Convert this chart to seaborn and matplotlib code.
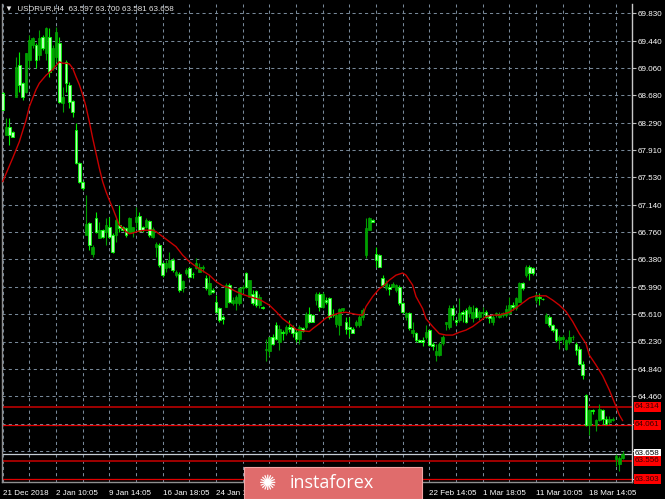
import numpy as np
import pandas as pd
import matplotlib
matplotlib.use("Agg")
import matplotlib.pyplot as plt
import matplotlib.transforms as mtransforms
from matplotlib.patches import Rectangle
import seaborn as sns

# USDRUR H4 candles (one value per bar)
opens = [
    68.71, 68.12, 68.23, 68.17, 68.66, 69.11, 68.85, 68.73, 69.18, 69.39,
    69.39, 69.25, 69.50, 69.27, 69.50, 69.06, 69.22, 69.41, 68.57, 69.15,
    68.83, 68.60, 68.19, 67.73, 67.47, 66.72, 66.89, 66.46, 66.96, 66.68,
    66.79, 66.77, 66.84, 66.72, 66.72, 66.86, 66.84, 66.82, 66.77, 66.76,
    66.91, 66.99, 66.83, 66.84, 66.92, 66.70, 66.56, 66.58, 66.33, 66.26,
    66.28, 66.37, 66.16, 66.17, 65.98, 66.19, 66.26, 66.18, 66.26, 66.21,
    66.26, 66.12, 65.90, 65.95, 65.79, 65.70, 65.57, 65.72, 66.02, 65.77,
    65.77, 65.77, 65.98, 66.19, 65.86, 65.89, 65.94, 65.74, 65.72, 65.11,
    65.09, 65.30, 65.46, 65.23, 65.37, 65.35, 65.44, 65.44, 65.37, 65.27,
    65.42, 65.44, 65.62, 65.60, 65.81, 65.90, 65.72, 65.81, 65.84, 65.62,
    65.47, 65.46, 65.67, 65.51, 65.44, 65.41, 65.46, 65.46, 65.58, 66.44,
    66.79, 66.93, 66.45, 66.44, 66.12, 65.98, 65.99, 66.00, 65.95, 66.00,
    65.77, 65.58, 65.63, 65.35, 65.35, 65.25, 65.25, 65.30, 65.39, 65.19,
    65.04, 65.04, 65.21, 65.48, 65.44, 65.70, 65.53, 65.53, 65.65, 65.67,
    65.63, 65.56, 65.70, 65.58, 65.63, 65.65, 65.60, 65.51, 65.60, 65.58,
    65.60, 65.60, 65.63, 65.74, 65.70, 65.79, 66.05, 66.16, 66.28, 66.26,
    65.81, 65.86, 65.83, 65.49, 65.58, 65.46, 65.41, 65.25, 65.27, 65.13,
    65.23, 65.29, 65.20, 65.13, 64.92, 64.48, 64.06, 64.27, 64.06, 64.13,
    64.27, 64.15, 64.10, 64.13, 63.58, 63.52, 63.597,
]
highs = [
    68.72, 68.36, 68.36, 68.18, 69.22, 69.29, 68.87, 69.27, 69.53, 69.50,
    69.41, 69.60, 69.53, 69.64, 69.62, 69.39, 69.64, 69.50, 68.80, 69.18,
    68.87, 68.62, 68.29, 67.75, 67.48, 67.28, 66.91, 66.58, 67.05, 66.91,
    66.80, 66.96, 66.98, 66.75, 66.96, 67.14, 66.85, 66.84, 66.97, 66.84,
    67.11, 67.05, 66.85, 66.96, 66.93, 66.84, 66.63, 66.61, 66.35, 66.37,
    66.49, 66.40, 66.23, 66.21, 66.09, 66.26, 66.28, 66.21, 66.40, 66.33,
    66.30, 66.16, 66.16, 65.98, 65.88, 65.72, 65.60, 66.05, 66.05, 65.86,
    65.88, 66.00, 66.02, 66.21, 66.09, 65.95, 65.95, 65.90, 65.73, 65.27,
    65.30, 65.34, 65.51, 65.46, 65.39, 65.46, 65.53, 65.46, 65.39, 65.46,
    65.44, 65.65, 65.72, 65.61, 65.93, 65.92, 65.92, 65.86, 65.86, 65.69,
    65.62, 65.70, 65.70, 65.58, 65.58, 65.44, 65.53, 65.60, 65.70, 66.96,
    66.97, 66.94, 66.56, 66.45, 66.16, 66.09, 66.03, 66.06, 66.03, 66.02,
    65.78, 65.65, 65.64, 65.51, 65.37, 65.27, 65.30, 65.46, 65.40, 65.23,
    65.20, 65.22, 65.32, 65.51, 65.74, 65.74, 65.55, 65.84, 65.67, 65.70,
    65.74, 65.74, 65.72, 65.67, 65.72, 65.67, 65.60, 65.60, 65.65, 65.65,
    65.65, 65.74, 65.86, 65.79, 65.86, 66.07, 66.07, 66.30, 66.30, 66.28,
    65.91, 65.91, 65.84, 65.63, 65.60, 65.48, 65.42, 65.32, 65.32, 65.27,
    65.39, 65.32, 65.23, 65.16, 64.95, 64.50, 64.29, 64.29, 64.15, 64.36,
    64.29, 64.18, 64.18, 64.17, 63.66, 63.62, 63.700,
]
lows = [
    68.47, 68.12, 67.98, 68.09, 68.65, 68.73, 68.62, 68.71, 69.06, 69.34,
    69.06, 69.18, 69.32, 69.18, 68.94, 69.04, 69.15, 68.57, 68.45, 68.73,
    68.50, 68.38, 67.72, 67.45, 67.36, 66.72, 66.51, 66.42, 66.75, 66.68,
    66.68, 66.58, 66.68, 66.47, 66.63, 66.77, 66.78, 66.70, 66.75, 66.70,
    66.82, 66.77, 66.77, 66.82, 66.70, 66.68, 66.42, 66.28, 66.14, 66.21,
    66.26, 66.21, 66.14, 65.93, 65.93, 66.16, 66.12, 66.12, 66.25, 66.21,
    66.21, 65.95, 65.88, 65.91, 65.63, 65.51, 65.48, 65.72, 65.77, 65.74,
    65.67, 65.74, 65.91, 65.98, 65.86, 65.74, 65.72, 65.70, 65.69, 64.95,
    65.02, 65.18, 65.25, 65.11, 65.25, 65.32, 65.37, 65.30, 65.23, 65.20,
    65.36, 65.41, 65.49, 65.50, 65.74, 65.66, 65.70, 65.76, 65.55, 65.58,
    65.44, 65.32, 65.65, 65.34, 65.30, 65.35, 65.44, 65.44, 65.53, 66.40,
    66.79, 66.90, 66.28, 66.27, 66.00, 65.95, 65.88, 65.99, 65.93, 65.74,
    65.63, 65.53, 65.39, 65.30, 65.23, 65.22, 65.16, 65.27, 65.16, 65.11,
    64.95, 65.02, 65.18, 65.39, 65.41, 65.53, 65.46, 65.51, 65.51, 65.49,
    65.58, 65.51, 65.56, 65.53, 65.56, 65.56, 65.49, 65.46, 65.58, 65.56,
    65.58, 65.58, 65.60, 65.67, 65.67, 65.79, 65.95, 66.14, 66.09, 66.16,
    65.77, 65.74, 65.81, 65.49, 65.44, 65.37, 65.23, 65.13, 65.20, 65.11,
    65.20, 65.25, 65.04, 64.90, 64.71, 64.04, 63.92, 64.22, 63.97, 64.11,
    64.08, 64.06, 64.08, 64.11, 63.49, 63.42, 63.581,
]
closes = [
    68.48, 68.24, 68.12, 68.10, 69.08, 68.83, 68.66, 69.27, 69.46, 69.48,
    69.18, 69.48, 69.34, 69.62, 69.01, 69.34, 69.57, 68.59, 68.66, 68.85,
    68.59, 68.45, 67.73, 67.47, 67.38, 66.87, 66.58, 66.56, 66.77, 66.79,
    66.70, 66.86, 66.70, 66.49, 66.93, 66.82, 66.79, 66.72, 66.96, 66.83,
    66.98, 66.78, 66.79, 66.93, 66.72, 66.80, 66.59, 66.30, 66.16, 66.33,
    66.37, 66.23, 66.20, 65.95, 66.08, 66.23, 66.14, 66.17, 66.33, 66.28,
    66.28, 65.98, 66.05, 65.93, 65.65, 65.53, 65.55, 66.02, 65.79, 65.81,
    65.86, 65.98, 66.00, 66.00, 66.09, 65.77, 65.74, 65.86, 65.70, 65.13,
    65.30, 65.20, 65.27, 65.41, 65.35, 65.44, 65.41, 65.35, 65.27, 65.44,
    65.38, 65.62, 65.51, 65.51, 65.90, 65.72, 65.90, 65.79, 65.58, 65.60,
    65.60, 65.69, 65.70, 65.41, 65.41, 65.35, 65.51, 65.58, 65.67, 66.82,
    66.96, 66.91, 66.37, 66.28, 66.02, 66.05, 65.97, 66.04, 66.02, 65.77,
    65.65, 65.63, 65.42, 65.39, 65.25, 65.23, 65.23, 65.37, 65.18, 65.17,
    65.09, 65.20, 65.30, 65.50, 65.70, 65.60, 65.51, 65.63, 65.62, 65.51,
    65.72, 65.65, 65.58, 65.65, 65.65, 65.58, 65.56, 65.58, 65.63, 65.60,
    65.63, 65.69, 65.74, 65.72, 65.84, 66.05, 65.98, 66.28, 66.19, 66.19,
    65.88, 65.84, 65.82, 65.60, 65.46, 65.39, 65.25, 65.30, 65.30, 65.25,
    65.30, 65.30, 65.11, 64.92, 64.76, 64.06, 64.27, 64.25, 64.13, 64.29,
    64.15, 64.08, 64.15, 64.15, 63.62, 63.60, 63.658,
]

# moving average line (bar index, value)
ma_bars = [0, 3, 5, 7, 8, 10, 11, 13, 15, 17, 18, 19, 20, 21, 22, 23, 24, 25,
           26, 27, 28, 29, 30, 31, 32, 33, 34, 35, 36, 37, 38, 39, 41, 43, 45,
           46, 48, 50, 52, 54, 56, 58, 60, 62, 64, 66, 68, 70, 72, 74, 77, 80,
           82, 84, 86, 88, 90, 92, 93, 95, 97, 99, 101, 103, 106, 108, 109,
           111, 113, 114, 116, 118, 120, 121, 123, 124, 126, 127, 129, 131,
           133, 135, 137, 139, 141, 143, 145, 147, 149, 152, 154, 156, 158,
           160, 161, 163, 165, 167, 169, 171, 173, 175, 176, 178, 180, 182,
           184, 185, 186]
ma_vals = [67.47, 67.80, 68.03, 68.33, 68.52, 68.76, 68.85, 68.96, 69.04, 69.15,
           69.13, 69.13, 69.12, 69.06, 68.94, 68.83, 68.69, 68.52, 68.31, 68.08,
           67.87, 67.66, 67.47, 67.33, 67.21, 67.10, 66.98, 66.86, 66.82, 66.77,
           66.74, 66.75, 66.78, 66.79, 66.79, 66.77, 66.70, 66.63, 66.56, 66.44,
           66.35, 66.28, 66.22, 66.16, 66.07, 66.01, 65.98, 65.93, 65.89, 65.86,
           65.82, 65.74, 65.65, 65.55, 65.48, 65.40, 65.38, 65.37, 65.41, 65.48,
           65.56, 65.60, 65.63, 65.64, 65.61, 65.60, 65.72, 65.86, 65.97, 66.00,
           66.09, 66.16, 66.19, 66.16, 66.02, 65.86, 65.69, 65.55, 65.44, 65.34,
           65.32, 65.32, 65.36, 65.39, 65.44, 65.51, 65.58, 65.60, 65.60, 65.64,
           65.70, 65.77, 65.84, 65.87, 65.87, 65.87, 65.81, 65.74, 65.65, 65.51,
           65.34, 65.20, 65.04, 64.90, 64.75, 64.55, 64.32, 64.20, 64.12]

price_levels = [69.830, 69.440, 69.060, 68.680, 68.290, 67.910, 67.530, 67.140,
                66.760, 66.380, 65.990, 65.610, 65.230, 64.840, 64.460,
                64.075, 63.690, 63.306]
# labels under the watermark badge are not visible in the screenshot
date_bars = [0, 16, 32, 48, 64, 80, 96, 112, 128, 144, 160, 176]
date_labels = ["21 Dec 2018", "2 Jan 10:05", "9 Jan 14:05", "16 Jan 18:05",
               "24 Jan 10:05", "", "", "",
               "22 Feb 14:05", "1 Mar 18:05", "11 Mar 10:05", "18 Mar 14:05"]

# horizontal levels: (price, line colour, line width, label bg, label fg)
levels = [
    (64.314, "#a00000", 1.4, "#ff0000", "#3a0000"),
    (64.061, "#e00000", 0.9, "#ff0000", "#3a0000"),
    (63.658, "#c4ccd4", 0.9, "#ffffff", "#000000"),
    (63.556, "#a00000", 1.4, "#ff0000", "#3a0000"),
    (63.303, "#e00000", 0.9, "#ff0000", "#3a0000"),
]

sns.set_theme(style="dark")
plt.rcParams["font.family"] = ["Liberation Sans", "DejaVu Sans"]

df = pd.DataFrame({"open": opens, "high": highs, "low": lows, "close": closes})
df["bar"] = np.arange(len(df))
df["bull"] = df["close"] >= df["open"]
up = df[df["bull"]]
dn = df[~df["bull"]]

fig = plt.figure(figsize=(6.65, 4.99), dpi=100, facecolor="black")
ax = fig.add_axes([2 / 665, 17 / 499, 630 / 665, 478 / 499])
ax.set_facecolor("black")

# candles
ax.vlines(up["bar"], up["low"], up["high"], color="#00a000", lw=0.8, zorder=3)
ax.bar(up["bar"], up["close"] - up["open"], bottom=up["open"], width=0.75,
       color="#00a000", edgecolor="#00a800", lw=0.5, zorder=4)
ax.vlines(dn["bar"], dn["low"], dn["high"], color="#00ee00", lw=0.8, zorder=3)
ax.bar(dn["bar"], dn["close"] - dn["open"], bottom=dn["open"], width=0.75,
       color="#b8ffb8", edgecolor="#00ff00", lw=0.6, zorder=4)

sns.lineplot(x=ma_bars, y=ma_vals, ax=ax, color="#c80000", lw=1.0, zorder=5)

trans = mtransforms.blended_transform_factory(ax.transAxes, ax.transData)
for price, lc, lw, bg, fg in levels:
    ax.axhline(price, color=lc, lw=lw, zorder=2)
    ax.text(1 + 3 / 630, price, f"{price:.3f}", transform=trans, ha="left",
            va="center", fontsize=5.8, color=fg, zorder=10,
            bbox=dict(boxstyle="square,pad=0.18", fc=bg, ec="none"))

ax.set_xlim(-0.2, 188.8)
ax.set_ylim(63.261, 69.960)

ax.set_yticks(price_levels)
ax.set_yticklabels([f"{p:.3f}" if p > 64.4 else "" for p in price_levels])
ax.yaxis.tick_right()
ax.tick_params(axis="y", length=3, width=0.8, color="#c0c0c0",
               labelcolor="white", labelsize=5.8, pad=1)

ax.set_xticks(date_bars)
ax.set_xticklabels(date_labels, ha="left")
ax.set_xticks(np.arange(8, 189, 16), minor=True)
ax.tick_params(axis="x", which="major", length=4, width=0.8, color="#a0a0a0",
               labelcolor="white", labelsize=5.8, pad=1.5)
ax.tick_params(axis="x", which="minor", length=0)

ax.set_axisbelow(True)
ax.grid(True, which="both", color="#778899", lw=0.75, linestyle=(0, (3, 3)))
ax.set_xlabel("")
ax.set_ylabel("")

ax.spines["top"].set_visible(False)
ax.spines["left"].set_color("#909090")
ax.spines["bottom"].set_color("#909090")
ax.spines["right"].set_color("#c8c8c8")
for side in ["left", "bottom", "right"]:
    ax.spines[side].set_linewidth(1.0)

fig.text(5 / 665, 1 - 9 / 499, "▼  USDRUR,H4  63.597 63.700 63.581 63.658",
         color="#e8e8e8", fontsize=5.8, va="center",
         family=["Liberation Sans", "DejaVu Sans"])

# watermark badge
fig.patches.append(Rectangle((244 / 665, 0), 178 / 665, 32 / 499,
                             transform=fig.transFigure, fc="#e06c6c",
                             ec="#f2a4a4", lw=0.8, zorder=20))
fig.text(268 / 665, 1 - 484 / 499, "✺", color="white", fontsize=15,
         ha="center", va="center", family=["DejaVu Sans"], zorder=21)
fig.text(290 / 665, 1 - 483 / 499, "instaforex", color="white", fontsize=13,
         ha="left", va="center", family=["Open Sans", "DejaVu Sans"], zorder=21)

fig.savefig("out.png", dpi=100, facecolor="black")
